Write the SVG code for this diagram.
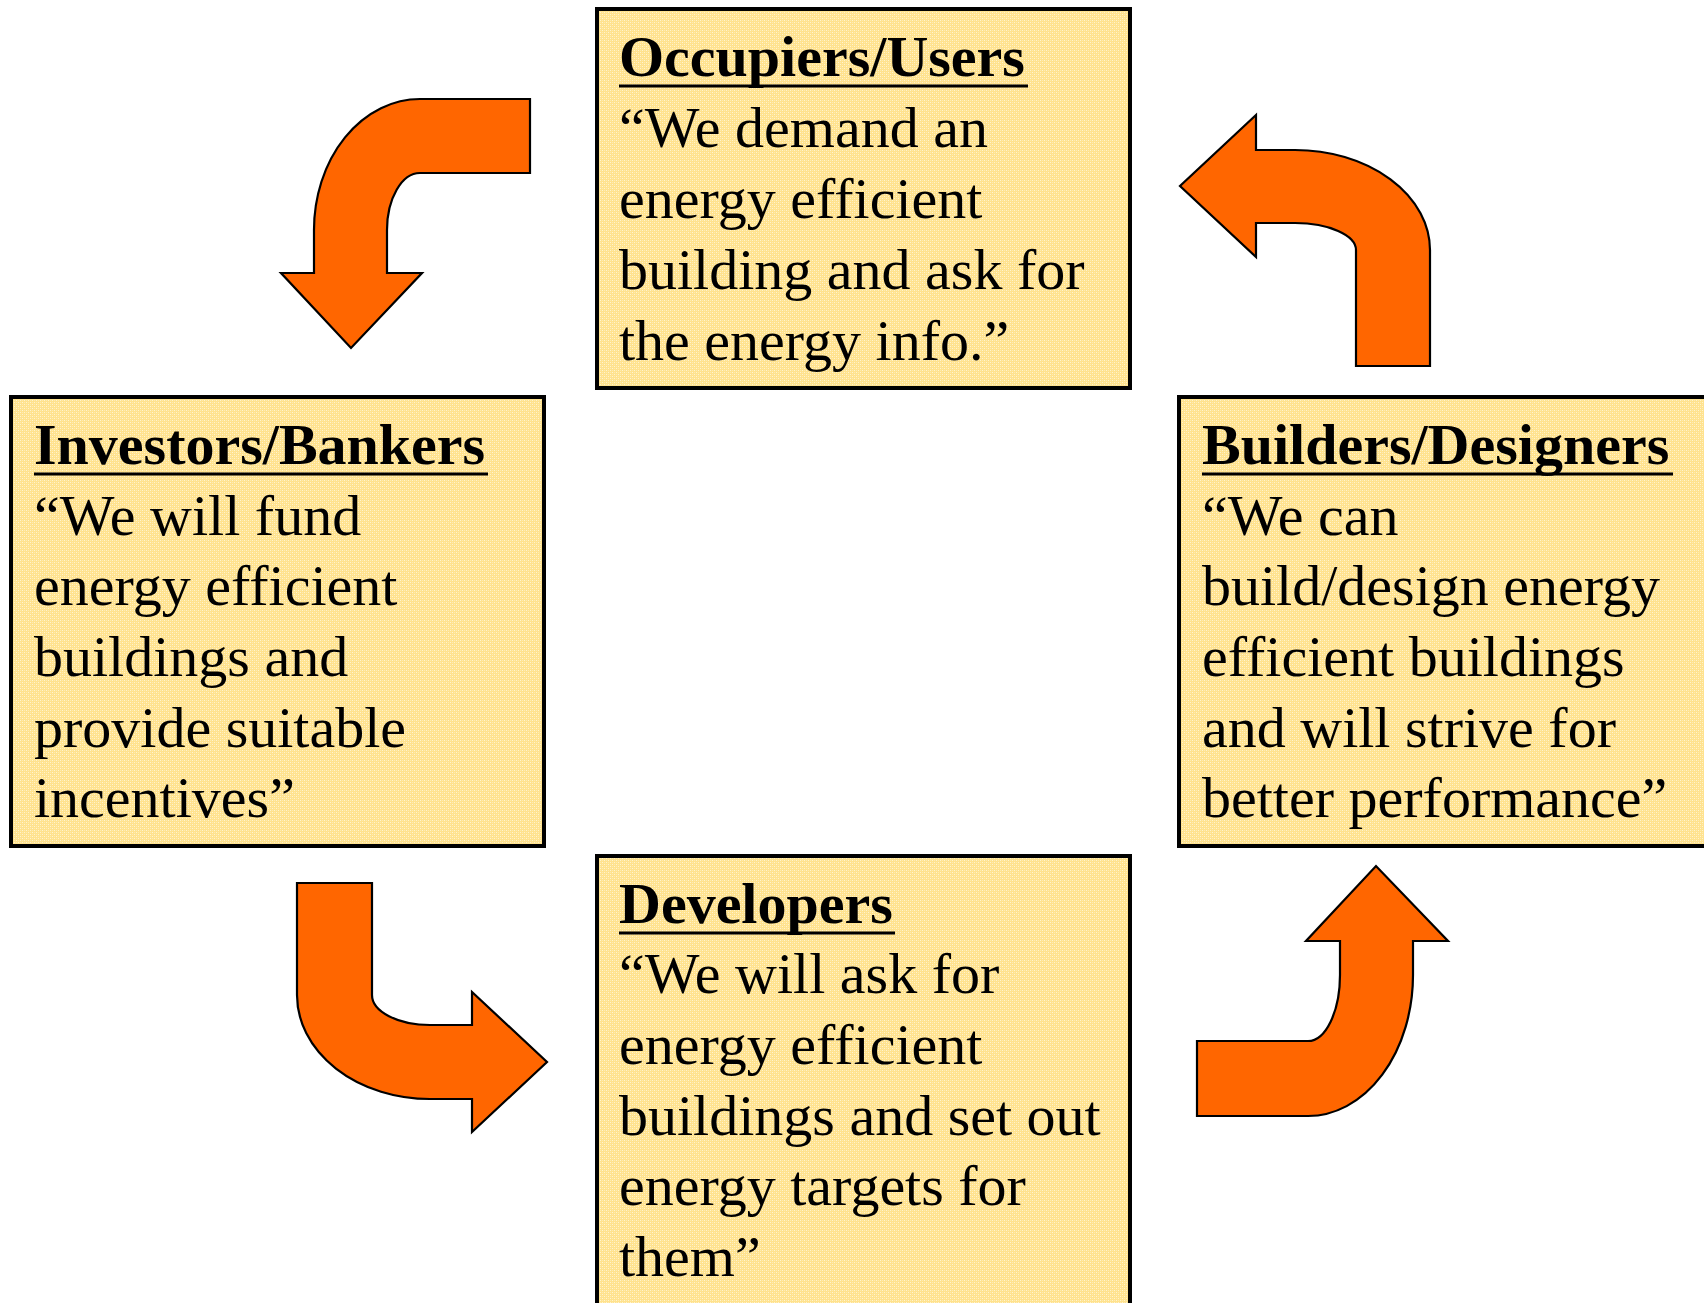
<svg xmlns="http://www.w3.org/2000/svg" width="1704" height="1303" viewBox="0 0 1704 1303">
<defs>
<pattern id="tex" patternUnits="userSpaceOnUse" width="4" height="4">
<rect width="4" height="4" fill="#FFE28E"/>
<rect x="0" y="0" width="1" height="1" fill="#FFF4CF"/>
<rect x="2" y="2" width="1" height="1" fill="#FFF4CF"/>
<rect x="2" y="0" width="1" height="1" fill="#FFEBB0"/>
<rect x="0" y="2" width="1" height="1" fill="#FFEBB0"/>
</pattern>
</defs>
<style>
.box{fill:url(#tex);stroke:#000;stroke-width:4}
.arrow{fill:#FF6600;stroke:#000;stroke-width:2.2;stroke-linejoin:miter}
.ul{stroke:#000;stroke-width:3}
text{font-family:"Liberation Serif","Times New Roman",serif;font-size:58px;fill:#000}
.title{font-weight:bold}
</style>
<rect width="1704" height="1303" fill="#FFFFFF"/>
<g id="connectors">
<path class="arrow" d="M530,99 L420,99 A106,131 0 0 0 314,230 L314,273 L281,273 L351,348 L422,273 L387,273 L387,230 A33,57 0 0 1 420,173 L530,173 Z"/>
<path class="arrow" d="M1356,366 L1430,366 L1430,250 A135,100 0 0 0 1295,150 L1256,150 L1256,115 L1180,186 L1256,257 L1256,223 L1295,223 A61,27 0 0 1 1356,250 Z"/>
<path class="arrow" d="M297,883 L372,883 L372,995 A58,30 0 0 0 430,1025 L472,1025 L472,992 L547,1062 L472,1132 L472,1099 L430,1099 A133,104 0 0 1 297,995 Z"/>
<path class="arrow" d="M1197,1041 L1308,1041 A32,66 0 0 0 1340,975 L1340,941 L1306,941 L1376,866 L1448,941 L1413,941 L1413,975 A105,141 0 0 1 1308,1116 L1197,1116 Z"/>
</g>
<g id="occupiers">
<rect class="box" x="597" y="9" width="533" height="379"/>
<text x="619" y="76" class="title">Occupiers/Users</text>
<line class="ul" x1="619" y1="86" x2="1028" y2="86"/>
<text x="619" y="147">“We demand an</text>
<text x="619" y="218">energy efficient</text>
<text x="619" y="289">building and ask for</text>
<text x="619" y="360">the energy info.”</text>
</g>
<g id="investors">
<rect class="box" x="11" y="397" width="533" height="449"/>
<text x="34" y="464" class="title">Investors/Bankers</text>
<line class="ul" x1="34" y1="474" x2="488" y2="474"/>
<text x="34" y="535">“We will fund</text>
<text x="34" y="605">energy efficient</text>
<text x="34" y="676">buildings and</text>
<text x="34" y="747">provide suitable</text>
<text x="34" y="817">incentives”</text>
</g>
<g id="builders">
<rect class="box" x="1179" y="397" width="540" height="449"/>
<text x="1202" y="464" class="title">Builders/Designers</text>
<line class="ul" x1="1202" y1="474" x2="1673" y2="474"/>
<text x="1202" y="535">“We can</text>
<text x="1202" y="605">build/design energy</text>
<text x="1202" y="676">efficient buildings</text>
<text x="1202" y="747">and will strive for</text>
<text x="1202" y="817">better performance”</text>
</g>
<g id="developers">
<rect class="box" x="597" y="856" width="533" height="470"/>
<text x="619" y="923" class="title">Developers</text>
<line class="ul" x1="619" y1="933" x2="895" y2="933"/>
<text x="619" y="993">“We will ask for</text>
<text x="619" y="1064">energy efficient</text>
<text x="619" y="1135">buildings and set out</text>
<text x="619" y="1205">energy targets for</text>
<text x="619" y="1276">them”</text>
</g>
</svg>
